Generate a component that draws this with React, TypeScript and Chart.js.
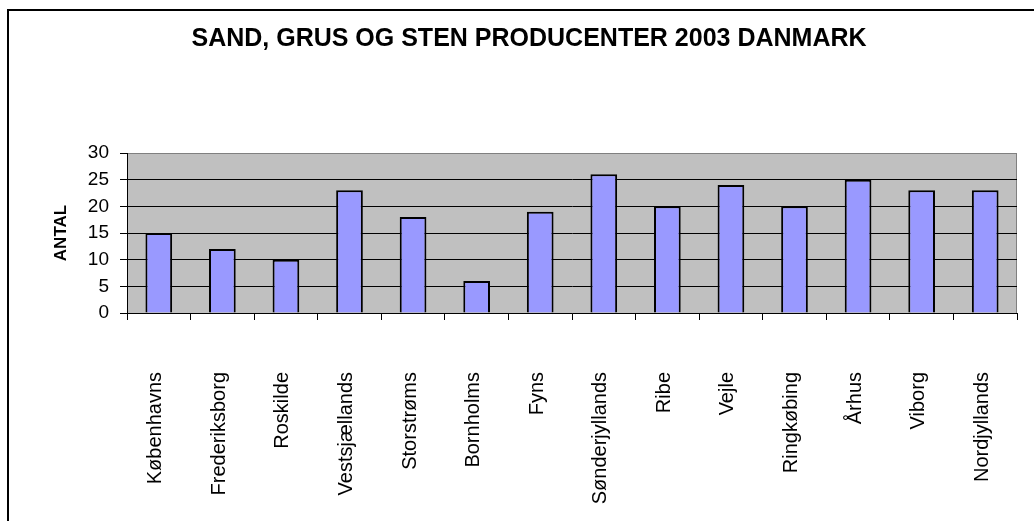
import React, { useEffect, useRef } from 'react';
import { Chart, registerables } from 'chart.js';
Chart.register(...registerables);

const TITLE = 'SAND, GRUS OG STEN PRODUCENTER 2003 DANMARK';
const Y_TITLE = 'ANTAL';
const categories = ['Københavns', 'Frederiksborg', 'Roskilde', 'Vestsjællands', 'Storstrøms', 'Bornholms', 'Fyns', 'Sønderjyllands', 'Ribe', 'Vejle', 'Ringkøbing', 'Århus', 'Viborg', 'Nordjyllands'];
const values = [15, 12, 10, 23, 18, 6, 19, 26, 20, 24, 20, 25, 23, 23];
const Y_MIN = 0;
const Y_MAX = 30;
const Y_STEP = 5;

const FONT = "'Liberation Sans', Arial, sans-serif";

export default function App() {
  const ref = useRef<HTMLCanvasElement>(null);
  useEffect(() => {
    const bgPlugin = {
      id: 'plotBg',
      beforeDraw(chart: any) {
        const { ctx, chartArea: a } = chart;
        ctx.save();
        ctx.fillStyle = '#C0C0C0';
        ctx.fillRect(a.left, a.top, a.right - a.left, a.bottom - a.top);
        ctx.strokeStyle = '#808080';
        ctx.lineWidth = 1;
        ctx.beginPath();
        ctx.moveTo(a.left, a.top + 0.5);
        ctx.lineTo(a.right - 0.5, a.top + 0.5);
        ctx.lineTo(a.right - 0.5, a.bottom);
        ctx.stroke();
        ctx.restore();
      },
    };
    const chart = new Chart(ref.current as HTMLCanvasElement, {
      type: 'bar',
      data: {
        labels: categories,
        datasets: [
          {
            data: values,
            backgroundColor: '#9999FF',
            borderColor: '#000000',
            borderWidth: 2,
            barPercentage: 0.42,
            categoryPercentage: 1,
          },
        ],
      },
      options: {
        animation: false,
        responsive: false,
        maintainAspectRatio: false,
        layout: { padding: { left: 41, right: 17, top: 0, bottom: 0 } },
        plugins: {
          legend: { display: false },
          tooltip: { enabled: false },
          title: {
            display: true,
            text: TITLE,
            color: '#000',
            font: { family: FONT, size: 25, weight: 'bold' },
            padding: { top: 24, bottom: 99 },
          },
        },
        scales: {
          x: {
            grid: { drawOnChartArea: false, drawTicks: true, tickLength: 7, color: '#000', offset: true },
            border: { color: '#000', width: 1 },
            ticks: {
              autoSkip: false,
              minRotation: 90,
              maxRotation: 90,
              padding: 52,
              labelOffset: -3,
              color: '#000',
              font: { family: FONT, size: 20 },
            },
            afterFit: (s: any) => {
              s.height = 208;
              s.paddingLeft = 0;
              s.paddingRight = 0;
            },
          },
          y: {
            min: Y_MIN,
            max: Y_MAX,
            ticks: { stepSize: Y_STEP, padding: 11, color: '#000', font: { family: FONT, size: 19 } },
            grid: {
              color: (c: any) => (c.tick && c.tick.value === Y_MAX ? '#808080' : '#000'),
              tickColor: '#000',
              tickLength: 7,
            },
            border: { color: '#000' },
            title: {
              display: true,
              text: Y_TITLE,
              color: '#000',
              font: { family: FONT, size: 17, weight: 'bold' },
              padding: { top: 10, bottom: 0 },
            },
            afterFit: (s: any) => {
              s.width = 86;
            },
          },
        },
      },
      plugins: [bgPlugin],
    } as any);
    return () => chart.destroy();
  }, []);
  return (
    <>
      <div
        style={{
          position: 'fixed',
          left: 7,
          top: 9,
          width: 1040,
          height: 520,
          borderLeft: '2px solid #000',
          borderTop: '2px solid #000',
          pointerEvents: 'none',
        }}
      />
      <canvas ref={ref} width={1034} height={521} style={{ position: 'fixed', left: 0, top: 0, width: 1034, height: 521 }} />
    </>
  );
}
